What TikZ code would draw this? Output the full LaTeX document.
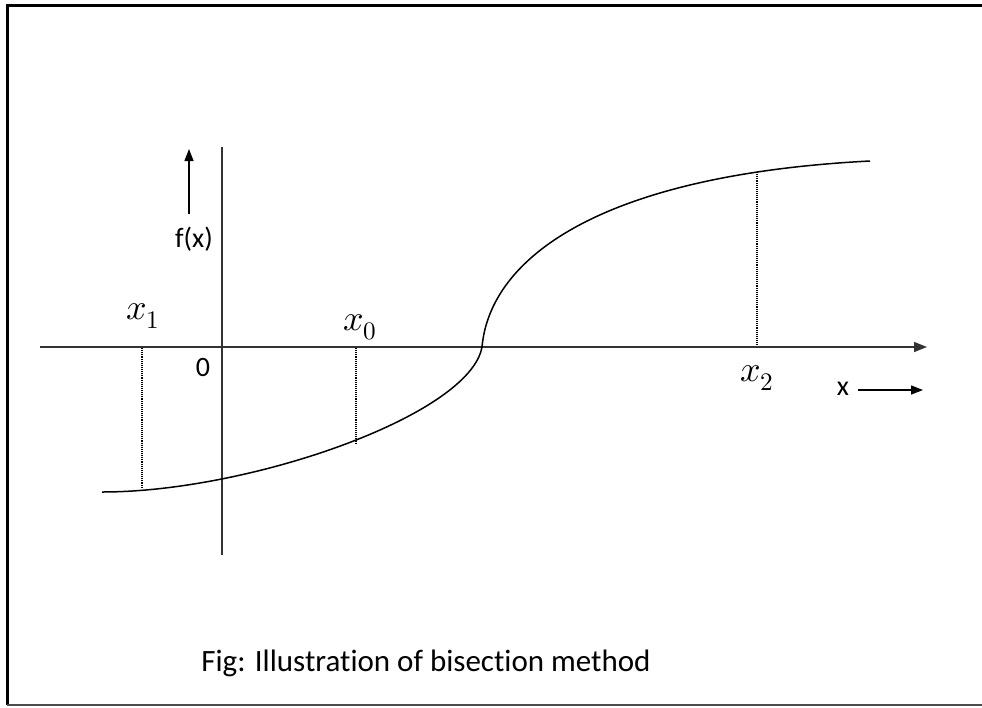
\documentclass[tikz,border=0pt]{standalone}
\usepackage{fontspec}
\usepackage{unicode-math}
\setmainfont{Carlito}[Ligatures=NoCommon]
\setmathfont{Latin Modern Math}
\usetikzlibrary{arrows.meta}
\begin{document}
\begin{tikzpicture}[x=1pt,y=-1pt,
  axis/.style={line width=1.4pt,draw=black!80,-{Triangle[length=13pt,width=10pt]}},
  plainaxis/.style={line width=1.4pt,draw=black!80},
  guide/.style={line width=1.7pt,dash pattern=on 1.1pt off 1pt},
  lbl/.style={inner sep=0pt,font=\fontsize{28}{30}\selectfont},
  mlbl/.style={inner sep=0pt,font=\fontsize{36}{38}\selectfont}]
\useasboundingbox (0,0) rectangle (982,707);
% frame
\draw[line width=3pt] (982,5) -- (7,5) -- (7,705);
\draw[line width=2pt,draw=black!70] (7,704.5) -- (982,704.5);
% axes
\coordinate (xl) at (40,347);
\coordinate (xr) at (927,347);
\coordinate (yt) at (222,147);
\coordinate (yb) at (222,555);
\draw[axis] (xl) -- (xr);
\draw[plainaxis] (yb) -- (yt);
% f(x) arrow
\coordinate (fa) at (189,214);
\coordinate (fb) at (189,149);
\draw[line width=1.4pt,-{Triangle[length=12pt,width=9pt]}] (fa) -- (fb);
\node[lbl] (fx) at (194,239) {f(x)};
\node[lbl] (zero) at (203,368) {0};
% x arrow
\node[lbl] (xx) at (843,389) {x};
\coordinate (xa) at (858,390);
\coordinate (xb) at (923,390);
\draw[line width=1.4pt,-{Triangle[length=12pt,width=9pt]}] (xa) -- (xb);
% curve
\coordinate (c0) at (102,492);
\coordinate (cm) at (482,347);
\coordinate (c1) at (870,161);
\draw[line width=1.5pt] (c0) .. controls (250,492) and (470,415) .. (cm)
  .. controls (490,258) and (600,175) .. (c1);
% guides
\coordinate (g1t) at (142,348);
\coordinate (g1b) at (142,488);
\coordinate (g0t) at (356,348);
\coordinate (g0b) at (356,444);
\coordinate (g2t) at (757,172);
\coordinate (g2b) at (757,346);
\draw[guide] (g1t) -- (g1b);
\draw[guide] (g0t) -- (g0b);
\draw[guide] (g2t) -- (g2b);
% labels
\node[mlbl] (x1) at (143,316) {$x_1$};
\node[mlbl] (x0) at (360,327) {$x_0$};
\node[mlbl] (x2) at (757,378) {$x_2$};
% caption
\node[inner sep=0pt,font=\fontsize{31}{33}\selectfont] (cap) at (426,663) {Fig: Illustration of bisection method};
\end{tikzpicture}
\end{document}
